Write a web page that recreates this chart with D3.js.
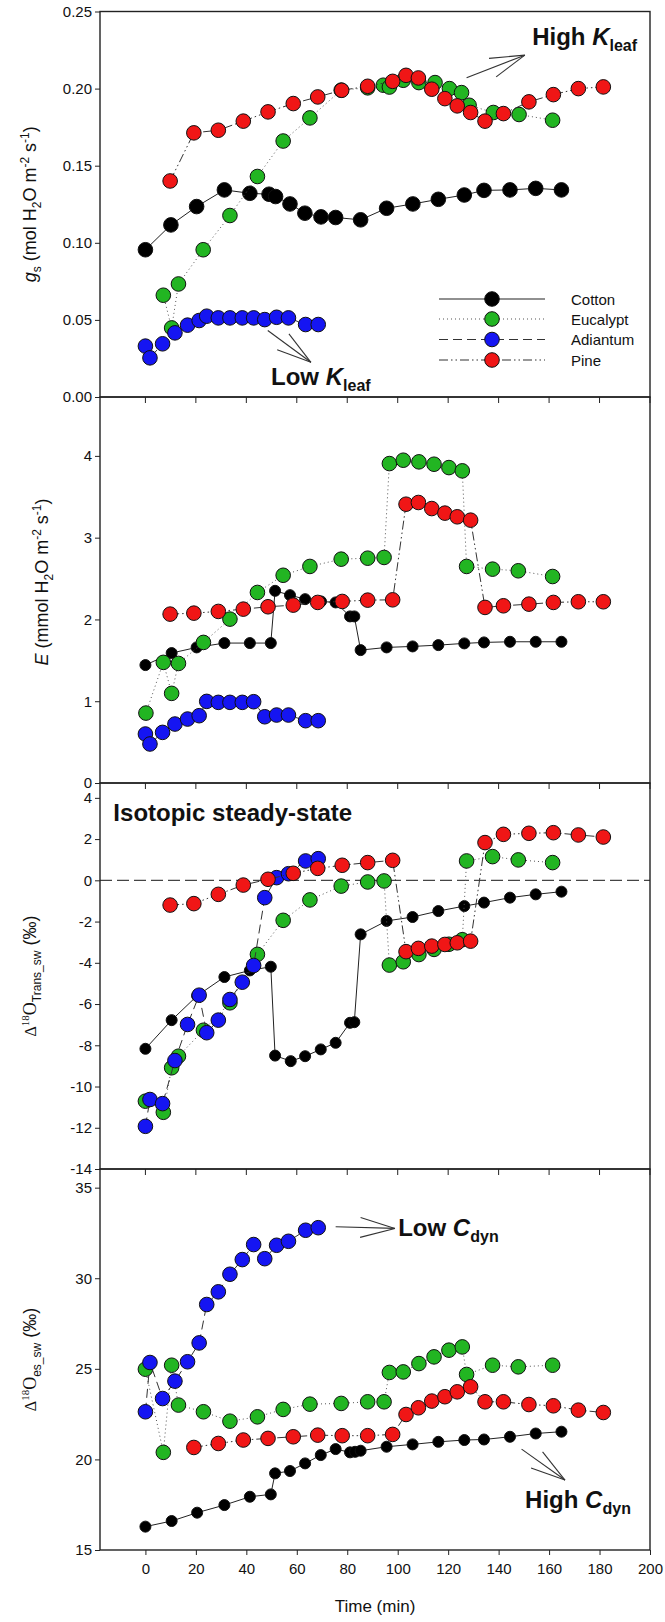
<!DOCTYPE html>
<html><head><meta charset="utf-8">
<script src="https://cdn.jsdelivr.net/npm/d3@7"></script>
<style>
body{margin:0;background:#fff}
svg{display:block}
text{font-family:"Liberation Sans",Arial,Helvetica,sans-serif;fill:#111}
</style>
</head><body>
<svg id="chart" width="665" height="1622"></svg>
<script>
// ---------- Data ----------
const timeTicks = [0,20,40,60,80,100,120,140,160,180,200];
const species = ["Cotton","Eucalypt","Adiantum","Pine"];

// Panel 1: g_s (mol H2O m-2 s-1)
const gsTicks = [0,0.05,0.10,0.15,0.20,0.25];
const gsCotton = [[0,0.0955],[10.1,0.1116],[20.3,0.1235],[31.3,0.1343],[41.4,0.1321],[49,0.1315],[51.6,0.1300],[57.3,0.1252],[63.2,0.1192],[69.6,0.1168],[75.4,0.1164],[85.3,0.1149],[95.6,0.1224],[106,0.1252],[116.1,0.1282],[126.4,0.1310],[134.2,0.1340],[144.5,0.1343],[154.7,0.1353],[164.9,0.1343]];
const gsEucalypt = [[7.1,0.066],[10.4,0.0448],[13.1,0.0733],[22.9,0.0955],[33.5,0.1177],[44.4,0.143],[54.6,0.166],[65.2,0.181],[77.6,0.199],[88.1,0.2005],[94.3,0.2022],[96.7,0.201],[102.2,0.2054],[108.4,0.2039],[114.8,0.2039],[120.5,0.200],[125.3,0.1974],[128.3,0.1892],[137.9,0.1845],[148.1,0.1832],[161.4,0.1795]];
const gsAdiantum = [[0,0.033],[1.8,0.0254],[6.8,0.0345],[11.7,0.0416],[16.7,0.0466],[21.3,0.0496],[24.3,0.0524],[28.9,0.0513],[33.5,0.0513],[38.4,0.0513],[42.9,0.0513],[47.3,0.0502],[52,0.0517],[56.7,0.0513],[63.5,0.047],[68.5,0.047]];
const gsPine = [[9.8,0.1401],[19.2,0.1713],[28.9,0.173],[38.8,0.1789],[48.6,0.1849],[58.6,0.1903],[68.3,0.1946],[77.8,0.1989],[88.1,0.2015],[98,0.2047],[103.3,0.2086],[108.2,0.2069],[113.5,0.1996],[118.7,0.1935],[123.6,0.1888],[128.9,0.1845],[134.6,0.1789],[141.9,0.1838],[152,0.1914],[161.7,0.1961],[171.6,0.2],[181.5,0.2011]];

// Panel 2: E (mmol H2O m-2 s-1)
const eTicks = [0,1,2,3,4];
const eCotton = [[0,1.442],[10.4,1.589],[20.3,1.658],[31.3,1.711],[41.4,1.711],[49.7,1.711],[51.4,2.35],[57.3,2.297],[63.3,2.248],[69.6,2.22],[75.4,2.208],[81.1,2.037],[82.8,2.037],[85.3,1.625],[95.6,1.658],[105.9,1.67],[116.1,1.686],[126.4,1.707],[134.2,1.719],[144.5,1.727],[154.7,1.727],[164.9,1.727]];
const eEucalypt = [[0.2,0.855],[7.1,1.475],[10.4,1.096],[13.1,1.462],[23,1.719],[33.5,2.004],[44.4,2.33],[54.6,2.54],[65.2,2.648],[77.6,2.737],[88.1,2.749],[94.6,2.758],[96.7,3.906],[102.2,3.947],[108.4,3.927],[114.4,3.898],[120.3,3.857],[125.6,3.817],[127.3,2.648],[137.6,2.615],[147.8,2.595],[161.4,2.525]];
const eAdiantum = [[0,0.599],[1.8,0.477],[6.8,0.619],[11.7,0.721],[16.7,0.782],[21.3,0.823],[24.3,0.998],[28.9,0.986],[33.5,0.986],[38.4,0.986],[42.9,0.994],[47.3,0.81],[52,0.831],[56.7,0.831],[63.5,0.762],[68.5,0.762]];
const ePine = [[9.8,2.065],[19.2,2.077],[28.9,2.098],[38.8,2.126],[48.6,2.155],[58.6,2.175],[68.3,2.208],[78,2.22],[88.1,2.236],[98,2.24],[103.3,3.409],[108.2,3.43],[113.5,3.356],[118.7,3.3],[123.6,3.255],[128.9,3.214],[134.6,2.147],[141.9,2.167],[152,2.187],[161.7,2.208],[171.6,2.216],[181.5,2.216]];

// Panel 3: Δ18O Trans_sw (‰)
const transTicks = [4,2,0,-2,-4,-6,-8,-10,-12,-14];
const transCotton = [[0,-8.17],[10.4,-6.78],[20.5,-5.6],[31.3,-4.69],[41.4,-4.37],[49.7,-4.19],[51.4,-8.5],[57.6,-8.77],[63.3,-8.53],[69.5,-8.2],[75.4,-7.88],[81.1,-6.91],[82.8,-6.88],[85.3,-2.62],[95.6,-1.97],[105.9,-1.78],[116.1,-1.49],[126.4,-1.25],[134.2,-1.08],[144.5,-0.84],[154.7,-0.68],[164.9,-0.55]];
const transEucalypt = [[0,-10.71],[7.1,-11.25],[10.4,-9.09],[13.1,-8.53],[23,-7.27],[33.5,-5.94],[44.4,-3.59],[54.6,-1.94],[65.2,-0.95],[77.6,-0.28],[88.1,-0.08],[94.6,-0.03],[96.7,-4.11],[102.2,-3.95],[108.4,-3.6],[114.4,-3.35],[120.3,-3.1],[125.6,-2.88],[127.3,0.94],[137.6,1.15],[147.8,0.99],[161.4,0.86]];
const transAdiantum = [[0,-11.93],[1.8,-10.63],[6.8,-10.83],[11.7,-8.74],[16.7,-6.99],[21.3,-5.57],[24.3,-7.39],[28.9,-6.78],[33.5,-5.78],[38.4,-4.94],[42.9,-4.13],[47.3,-0.84],[52,0.13],[56.7,0.32],[63.5,0.94],[68.5,1.05]];
const transPine = [[9.8,-1.2],[19.2,-1.13],[28.9,-0.68],[38.8,-0.23],[48.6,0.05],[58.6,0.34],[68.3,0.58],[78,0.73],[88.1,0.86],[98,0.97],[103.3,-3.46],[108.2,-3.3],[113.5,-3.19],[118.7,-3.11],[123.6,-3.03],[128.9,-2.95],[134.6,1.83],[141.9,2.23],[152,2.28],[161.7,2.31],[171.6,2.2],[181.5,2.1]];

// Panel 4: Δ18O es_sw (‰)
const esTicks = [15,20,25,30,35];
const esCotton = [[0,16.29],[10.4,16.6],[20.5,17.06],[31.3,17.48],[41.4,17.94],[49.7,18.07],[51.4,19.23],[57.3,19.36],[63.3,19.78],[69.5,20.24],[75.4,20.57],[81.1,20.39],[83.1,20.42],[85.3,20.48],[95.6,20.7],[105.9,20.83],[116.1,20.97],[126.4,21.07],[134.2,21.1],[144.5,21.25],[154.7,21.43],[164.9,21.53]];
const esEucalypt = [[0,24.98],[7.1,20.39],[10.4,25.2],[13.1,23.0],[23,22.63],[33.5,22.11],[44.4,22.35],[54.6,22.76],[65.2,23.05],[77.6,23.09],[88.1,23.18],[94.6,23.18],[96.7,24.8],[102.2,24.83],[108.4,25.29],[114.4,25.66],[120.3,26.03],[125.6,26.21],[127.3,24.69],[137.6,25.2],[147.8,25.11],[161.4,25.2]];
const esAdiantum = [[0,22.63],[1.8,25.35],[6.8,23.36],[11.7,24.32],[16.7,25.39],[21.3,26.43],[24.3,28.55],[28.9,29.25],[33.5,30.22],[38.4,31.03],[42.9,31.86],[47.3,31.08],[52,31.82],[56.7,32.04],[63.5,32.65],[68.5,32.79]];
const esPine = [[19.2,20.66],[28.9,20.88],[38.8,21.07],[48.6,21.16],[58.6,21.25],[68.3,21.34],[78,21.31],[88.1,21.31],[98,21.38],[103.3,22.48],[108.2,22.85],[113.5,23.22],[118.7,23.46],[123.6,23.73],[128.9,24.01],[134.6,23.18],[141.9,23.18],[152,23.03],[161.7,22.96],[171.6,22.72],[181.5,22.59]];

// ---------- Layout & style ----------
const svg = d3.select("#chart");
const L = 100, R = 650;
const x = d3.scaleLinear().domain([-18, 200]).range([L, R]);

const style = {
  Cotton:   {fill:"#000000", dash:null,              line:"#222"},
  Eucalypt: {fill:"#22b522", dash:"1,3",             line:"#555"},
  Adiantum: {fill:"#1515f2", dash:"9,5",             line:"#333"},
  Pine:     {fill:"#f01616", dash:"9,3,1.5,3,1.5,3", line:"#333"}
};
const bigR = 7.3, smallR = 5.5;

const panels = [
  {top:11.5, bottom:397, domain:[0,0.25], ticks:gsTicks, fmt:d3.format(".2f"),
   series:{Cotton:gsCotton, Eucalypt:gsEucalypt, Adiantum:gsAdiantum, Pine:gsPine}, blackR:bigR, topTicks:false},
  {top:397, bottom:783, domain:[0,4.72], ticks:eTicks, fmt:d=>String(d),
   series:{Cotton:eCotton, Eucalypt:eEucalypt, Adiantum:eAdiantum, Pine:ePine}, blackR:smallR, topTicks:true},
  {top:783, bottom:1169, domain:[-14,4.72], ticks:transTicks, fmt:d=>String(d),
   series:{Cotton:transCotton, Eucalypt:transEucalypt, Adiantum:transAdiantum, Pine:transPine}, blackR:smallR, topTicks:true},
  {top:1169, bottom:1550, domain:[15,36.03], ticks:esTicks, fmt:d=>String(d),
   series:{Cotton:esCotton, Eucalypt:esEucalypt, Adiantum:esAdiantum, Pine:esPine}, blackR:smallR, topTicks:true}
];

panels.forEach((p, i) => {
  p.y = d3.scaleLinear().domain(p.domain).range([p.bottom, p.top]);
  const g = svg.append("g");

  // zero line in panel 3
  if (i === 2) {
    g.append("line").attr("x1", L).attr("x2", R)
      .attr("y1", p.y(0)).attr("y2", p.y(0))
      .attr("stroke", "#444").attr("stroke-width", 1.3).attr("stroke-dasharray", "12,5");
  }

  // series
  const line = d3.line().x(d => x(d[0])).y(d => p.y(d[1]));
  species.forEach(sp => {
    const data = p.series[sp];
    const st = style[sp];
    g.append("path").attr("d", line(data)).attr("fill", "none")
      .attr("stroke", st.line).attr("stroke-width", 1)
      .attr("stroke-dasharray", st.dash);
    g.selectAll(null).data(data).enter().append("circle")
      .attr("cx", d => x(d[0])).attr("cy", d => p.y(d[1]))
      .attr("r", sp === "Cotton" ? p.blackR : bigR)
      .attr("fill", st.fill).attr("stroke", "#111").attr("stroke-width", 1);
  });

  // y axis
  const ya = g.append("g").attr("transform", `translate(${L},0)`)
    .call(d3.axisLeft(p.y).tickValues(p.ticks).tickFormat(p.fmt).tickSize(5).tickPadding(3));
  ya.select(".domain").remove();
  ya.selectAll("line").attr("stroke", "#222");
  ya.selectAll("text").style("font-size", "15px").attr("fill", "#111");

  // x ticks on top border (inward)
  if (p.topTicks) {
    g.selectAll(null).data(timeTicks).enter().append("line")
      .attr("x1", d => x(d)).attr("x2", d => x(d))
      .attr("y1", p.top).attr("y2", p.top + 6)
      .attr("stroke", "#222").attr("stroke-width", 1);
  }
  // frame
  g.append("rect").attr("x", L).attr("y", p.top).attr("width", R - L).attr("height", p.bottom - p.top)
    .attr("fill", "none").attr("stroke", "#222").attr("stroke-width", 1.4);
});

// bottom x axis
const p4 = panels[3];
const xa = svg.append("g").attr("transform", `translate(0,${p4.bottom})`)
  .call(d3.axisBottom(x).tickValues(timeTicks).tickSize(5).tickPadding(8).tickFormat(d => String(d)));
xa.select(".domain").remove();
xa.selectAll("line").attr("stroke", "#222");
xa.selectAll("text").style("font-size", "15px").attr("fill", "#111");

svg.append("text").attr("x", (L + R) / 2).attr("y", 1612).attr("text-anchor", "middle")
  .style("font-size", "17px").text("Time (min)");

// ---------- Y titles ----------
function yTitle(cx, cy, parts) {
  const t = svg.append("text").attr("text-anchor", "middle")
    .attr("transform", `translate(${cx},${cy}) rotate(-90)`).style("font-size", "18px");
  let shift = 0;
  parts.forEach(pt => {
    const ts = t.append("tspan").text(pt.t);
    const target = pt.sub ? 5 : pt.sup ? -7 : 0;
    ts.attr("dy", target - shift); shift = target;
    if (pt.size) ts.style("font-size", pt.size + "px");
    if (pt.it) ts.style("font-style", "italic");
    if (pt.serif) ts.style("font-family", '"Liberation Serif","Times New Roman",serif');
  });
}
yTitle(36, (panels[0].top + panels[0].bottom) / 2, [
  {t:"g", it:true}, {t:"s", sub:true, size:12}, {t:" (mol H"}, {t:"2", sub:true, size:12},
  {t:"O m"}, {t:"-2", sup:true, size:12}, {t:" s"}, {t:"-1", sup:true, size:12}, {t:")"}]);
yTitle(48, (panels[1].top + panels[1].bottom) / 2 - 8, [
  {t:"E", it:true}, {t:" (mmol H"}, {t:"2", sub:true, size:12},
  {t:"O m"}, {t:"-2", sup:true, size:12}, {t:" s"}, {t:"-1", sup:true, size:12}, {t:")"}]);
yTitle(36, (panels[2].top + panels[2].bottom) / 2, [
  {t:"Δ", serif:true, size:16}, {t:"18", sup:true, size:11, serif:true}, {t:"O", serif:true},
  {t:"Trans_sw", sub:true, size:12}, {t:" (‰)"}]);
yTitle(36, (panels[3].top + panels[3].bottom) / 2, [
  {t:"Δ", serif:true, size:16}, {t:"18", sup:true, size:11, serif:true}, {t:"O", serif:true},
  {t:"es_sw", sub:true, size:12}, {t:" (‰)"}]);

// ---------- Legend (panel 1) ----------
const legRows = [299, 319, 339.5, 360];
species.forEach((sp, k) => {
  const st = style[sp];
  const yy = legRows[k];
  svg.append("line").attr("x1", 439).attr("x2", 545).attr("y1", yy).attr("y2", yy)
    .attr("stroke", st.line).attr("stroke-width", 1.2).attr("stroke-dasharray", st.dash);
  svg.append("circle").attr("cx", 492).attr("cy", yy).attr("r", bigR)
    .attr("fill", st.fill).attr("stroke", "#111").attr("stroke-width", 1);
  svg.append("text").attr("x", 571).attr("y", yy + 5.5).style("font-size", "15px").text(sp);
});

// ---------- Annotations ----------
function arrow(p, t0, v0, t1, v1) {
  const x0 = x(t0), y0 = p.y(v0), x1 = x(t1), y1 = p.y(v1);
  const back = Math.atan2(y0 - y1, x0 - x1);
  const len = 36, a = 16 * Math.PI / 180;
  const g = svg.append("g").attr("stroke", "#333").attr("stroke-width", 1.1).attr("fill", "none");
  g.append("line").attr("x1", x0).attr("y1", y0).attr("x2", x1).attr("y2", y1);
  [-a, a].forEach(da => {
    g.append("line").attr("x1", x1).attr("y1", y1)
      .attr("x2", x1 + len * Math.cos(back + da)).attr("y2", y1 + len * Math.sin(back + da));
  });
}
function label(p, t, v, main, sub, italicPart) {
  const tx = svg.append("text").attr("x", x(t)).attr("y", p.y(v))
    .style("font-size", "24px").style("font-weight", "bold");
  tx.append("tspan").text(main);
  tx.append("tspan").text(italicPart).style("font-style", "italic");
  if (sub) tx.append("tspan").text(sub).attr("dy", 6).style("font-size", "16px");
}
label(panels[0], 153.3, 0.2283, "High ", "leaf", "K");
arrow(panels[0], 127.3, 0.2071, 150.4, 0.2217);
label(panels[0], 49.8, 0.0081, "Low ", "leaf", "K");
arrow(panels[0], 48.5, 0.0431, 65.6, 0.0225);
label(panels[3], 100.2, 32.35, "Low ", "dyn", "C");
arrow(panels[3], 75.4, 32.84, 98.9, 32.75);
label(panels[3], 150.5, 17.3, "High ", "dyn", "C");
arrow(panels[3], 149.1, 20.57, 166.3, 18.86);
svg.append("text").attr("x", x(-12.7)).attr("y", panels[2].y(2.9))
  .style("font-size", "24px").style("font-weight", "bold").text("Isotopic steady-state");
</script>
</body></html>
